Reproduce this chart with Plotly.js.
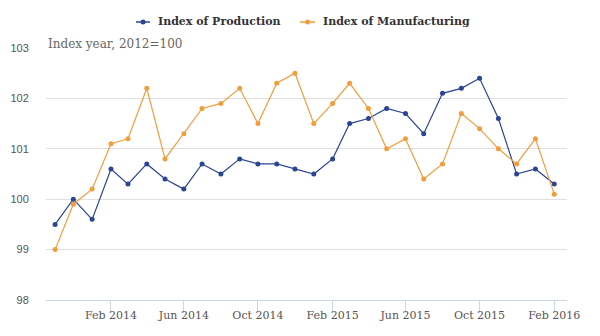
<!DOCTYPE html>
<html>
<head>
<meta charset="utf-8">
<script src="https://cdn.plot.ly/plotly-3.0.1.min.js"></script>
<style>html,body{margin:0;padding:0;background:#fff;}#chart{width:600px;height:336px;}</style>
</head>
<body>
<div id="chart"></div>
<script>
var months = ["2013-11-01","2013-12-01","2014-01-01","2014-02-01","2014-03-01","2014-04-01","2014-05-01","2014-06-01","2014-07-01","2014-08-01","2014-09-01","2014-10-01","2014-11-01","2014-12-01","2015-01-01","2015-02-01","2015-03-01","2015-04-01","2015-05-01","2015-06-01","2015-07-01","2015-08-01","2015-09-01","2015-10-01","2015-11-01","2015-12-01","2016-01-01","2016-02-01"];
var production = [99.5,100.0,99.6,100.6,100.3,100.7,100.4,100.2,100.7,100.5,100.8,100.7,100.7,100.6,100.5,100.8,101.5,101.6,101.8,101.7,101.3,102.1,102.2,102.4,101.6,100.5,100.6,100.3];
var manufacturing = [99.0,99.9,100.2,101.1,101.2,102.2,100.8,101.3,101.8,101.9,102.2,101.5,102.3,102.5,101.5,101.9,102.3,101.8,101.0,101.2,100.4,100.7,101.7,101.4,101.0,100.7,101.2,100.1];
var tickDates = ["2014-02-01","2014-06-01","2014-10-01","2015-02-01","2015-06-01","2015-10-01","2016-02-01"];
var tickLabels = ["Feb 2014","Jun 2014","Oct 2014","Feb 2015","Jun 2015","Oct 2015","Feb 2016"];
var yTicks = [98,99,100,101,102,103];
var seriesNames = ["Index of Production","Index of Manufacturing"];
var seriesColors = ["#2b4593", "#f29d3c"];
var unitNote = "Index year, 2012=100";

var serif = "DejaVu Serif, serif";
var W = 600, H = 336, M = {l: 46, r: 33, t: 48, b: 36};
var pw = W - M.l - M.r, ph = H - M.t - M.b;
function px(x) { return (x - M.l) / pw; }
function py(y) { return (H - M.b - y) / ph; }

var traces = [
  {x: months, y: production, name: seriesNames[0], type: "scatter", mode: "lines+markers",
   line: {color: seriesColors[0], width: 1.2}, marker: {color: seriesColors[0], size: 5}},
  {x: months, y: manufacturing, name: seriesNames[1], type: "scatter", mode: "lines+markers",
   line: {color: seriesColors[1], width: 1.2}, marker: {color: seriesColors[1], size: 5}}
];

// manual legend (symbol positions in pixels)
var legendItems = [{x0: 136, x1: 150, tx: 156}, {x0: 300, x1: 315, tx: 321}];
var legendY = 22;
var shapes = [], annotations = [];
legendItems.forEach(function (it, i) {
  shapes.push({type: "line", xref: "paper", yref: "paper", x0: px(it.x0), x1: px(it.x1), y0: py(legendY), y1: py(legendY),
    line: {color: seriesColors[i], width: 1.5}});
  var cx = (it.x0 + it.x1) / 2;
  shapes.push({type: "circle", xref: "paper", yref: "paper", x0: px(cx - 2.5), x1: px(cx + 2.5), y0: py(legendY + 2.5), y1: py(legendY - 2.5),
    fillcolor: seriesColors[i], line: {width: 0}});
  annotations.push({text: "<b>" + seriesNames[i] + "</b>", xref: "paper", yref: "paper", x: px(it.tx), y: py(legendY),
    xanchor: "left", yanchor: "middle", showarrow: false, font: {family: serif, size: 11, color: "#333"}});
});
annotations.push({text: unitNote, xref: "paper", yref: "paper", x: 0, y: 1, xanchor: "left", yanchor: "bottom",
  showarrow: false, font: {family: serif, size: 12, color: "#666"}, yshift: -5});

var layout = {
  width: W, height: H,
  margin: M,
  paper_bgcolor: "#fff", plot_bgcolor: "#fff",
  showlegend: false,
  xaxis: {type: "date", range: ["2013-10-17", "2016-02-22"],
    tickvals: tickDates, ticktext: tickLabels, ticks: "outside", ticklen: 12, tickcolor: "#ccd6eb",
    ticklabelstandoff: -7,
    showgrid: false, showline: true, linecolor: "#ccd6eb", linewidth: 1, zeroline: false,
    tickfont: {family: serif, size: 11, color: "#555"}},
  yaxis: {range: [98, 103], tickvals: yTicks, showgrid: true, gridcolor: "#e0e0e0", gridwidth: 1,
    zeroline: false, showline: false, ticks: "outside", ticklen: 14, tickcolor: "rgba(0,0,0,0)",
    tickfont: {family: "Liberation Sans, Arial, sans-serif", size: 11, color: "#555"}},
  shapes: shapes,
  annotations: annotations
};
Plotly.newPlot("chart", traces, layout, {displayModeBar: false, staticPlot: true});
</script>
</body>
</html>
